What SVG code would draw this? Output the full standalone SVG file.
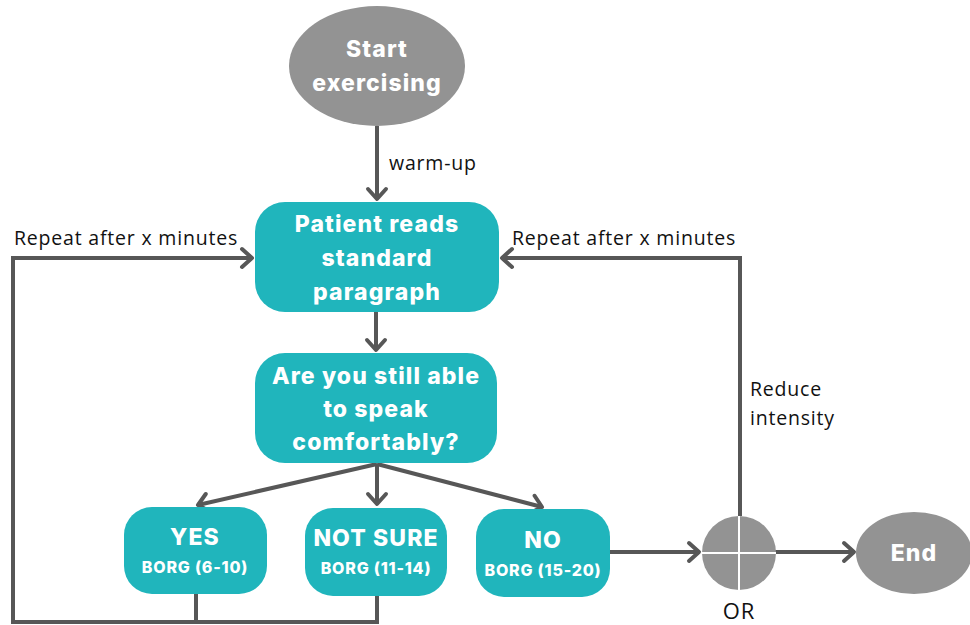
<svg xmlns="http://www.w3.org/2000/svg" width="970" height="625" viewBox="0 0 970 625">
  <defs>
    <style>
      .teal { fill: #20b5bc; }
      .grey { fill: #939393; }
      .edge { fill: none; stroke: #575757; stroke-width: 4; stroke-linejoin: miter; }
      .title { font-family: Inter, "Open Sans", sans-serif; font-weight: 800; fill: #ffffff; text-anchor: middle; letter-spacing: 1.1px; }
      .big { font-size: 23px; }
      .small { font-size: 16px; letter-spacing: 0.8px; }
      .label { font-family: "Open Sans", "Noto Sans", sans-serif; font-size: 19.5px; fill: #111111; letter-spacing: 0.8px; }
      .or { font-size: 22px; text-anchor: middle; }
    </style>
    <marker id="arrow" markerUnits="userSpaceOnUse" markerWidth="30" markerHeight="30" viewBox="-15 -15 30 30" refX="0" refY="0" orient="auto">
      <path d="M-10,-9 L0,0 L-10,9" fill="none" stroke="#575757" stroke-width="4" stroke-linecap="round" stroke-linejoin="round"/>
    </marker>
  </defs>

  <rect width="970" height="625" fill="#ffffff"/>

  <!-- connectors -->
  <g id="connectors">
    <path class="edge" d="M377,126 L377,199" marker-end="url(#arrow)"/>
    <path class="edge" d="M376,312 L376,350" marker-end="url(#arrow)"/>
    <path class="edge" d="M377,464 L198,505" marker-end="url(#arrow)"/>
    <path class="edge" d="M377,464 L377,504" marker-end="url(#arrow)"/>
    <path class="edge" d="M377,464 L542,507" marker-end="url(#arrow)"/>
    <path class="edge" d="M196,594 L196,622"/>
    <path class="edge" d="M377,596 L377,622 L13,622 L13,258 L252,258" marker-end="url(#arrow)"/>
    <path class="edge" d="M610,552 L699,552" marker-end="url(#arrow)"/>
    <path class="edge" d="M775,552 L854,552" marker-end="url(#arrow)"/>
    <path class="edge" d="M740,516 L740,258 L502,258" marker-end="url(#arrow)"/>
  </g>

  <!-- start -->
  <g id="start">
    <ellipse class="grey" cx="377" cy="66" rx="88" ry="60"/>
    <text class="title big" x="377" y="57">Start</text>
    <text class="title big" x="377" y="91">exercising</text>
  </g>

  <!-- reading step -->
  <g id="read">
    <rect class="teal" x="255" y="202" width="244" height="110" rx="30"/>
    <text class="title big" x="377" y="232">Patient reads</text>
    <text class="title big" x="377" y="266">standard</text>
    <text class="title big" x="377" y="300">paragraph</text>
  </g>

  <!-- question -->
  <g id="question">
    <rect class="teal" x="255" y="353" width="242" height="110" rx="30"/>
    <text class="title big" x="376" y="384">Are you still able</text>
    <text class="title big" x="376" y="417">to speak</text>
    <text class="title big" x="376" y="450">comfortably?</text>
  </g>

  <!-- answers -->
  <g id="yes">
    <rect class="teal" x="124" y="507" width="143" height="87" rx="28"/>
    <text class="title big" x="195" y="545">YES</text>
    <text class="title small" x="195" y="573">BORG (6-10)</text>
  </g>
  <g id="notsure">
    <rect class="teal" x="305" y="508" width="142" height="88" rx="28"/>
    <text class="title big" x="376" y="546">NOT SURE</text>
    <text class="title small" x="376" y="574">BORG (11-14)</text>
  </g>
  <g id="no">
    <rect class="teal" x="476" y="509" width="134" height="88" rx="28"/>
    <text class="title big" x="543" y="548">NO</text>
    <text class="title small" x="543" y="576">BORG (15-20)</text>
  </g>

  <!-- OR junction -->
  <g id="or">
    <circle class="grey" cx="739" cy="553" r="37"/>
    <path d="M702,553 L776,553 M739,516 L739,590" stroke="#ffffff" stroke-width="2"/>
    <text class="label or" x="739" y="619">OR</text>
  </g>

  <!-- end -->
  <g id="end">
    <ellipse class="grey" cx="914" cy="553" rx="58" ry="41"/>
    <text class="title big" x="914" y="561">End</text>
  </g>

  <!-- connector labels -->
  <g id="labels">
    <text class="label" x="389" y="170">warm-up</text>
    <text class="label" x="14" y="245">Repeat after x minutes</text>
    <text class="label" x="512" y="245">Repeat after x minutes</text>
    <text class="label" x="750" y="396">Reduce</text>
    <text class="label" x="750" y="425">intensity</text>
  </g>
</svg>
